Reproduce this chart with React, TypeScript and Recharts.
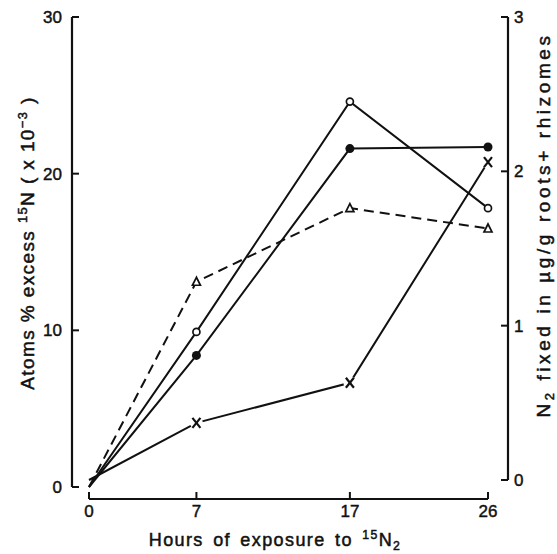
import React from 'react';
import { LineChart, Line, XAxis, YAxis, ReferenceLine } from 'recharts';

// values
const hours = [0, 7, 17, 26];
const openCircle = [0, 9.9, 24.6, 17.8];
const filledCircle = [0, 8.4, 21.6, 21.7];
const triangle = [0, 13.1, 17.8, 16.5];
const nFixed = [0, 0.37, 0.63, 2.06];

const hourTicks = [0, 7, 17, 26];
const atomTicks = [0, 10, 20, 30];
const fixedTicks = [0, 1, 2, 3];

const data = hours.map((hour, i) => ({
  hour,
  open: openCircle[i],
  filled: filledCircle[i],
  tri: triangle[i],
  fixed: nFixed[i]
}));

const INK = '#111';
const FONT = '"Liberation Sans", Arial, sans-serif';

// layout
const W = 557;
const H = 554;
const LEFT_W = 72;
const RIGHT_W = 49;
const TOP = 17;
const BOTTOM_H = 55;
const PAD_X = { left: 17, right: 20 };
const PAD_LEFT_Y = 12;
const PAD_RIGHT_Y = 19;

const plotW = W - LEFT_W - RIGHT_W;
const plotH = H - TOP - BOTTOM_H;
const pxPerHour = (plotW - PAD_X.left - PAD_X.right) / 26;
const pxPerAtom = (plotH - PAD_LEFT_Y) / 30;
const leftAxisX = -PAD_X.left / pxPerHour;
const rightAxisX = 26 + PAD_X.right / pxPerHour;
const bottomAxisY = -PAD_LEFT_Y / pxPerAtom;

const tickText = { fontSize: 17, fontFamily: FONT, fill: INK, stroke: INK, strokeWidth: 0.45 };

const LeftTick = ({ x, y, payload }: any) => (
  <g>
    <line x1={x} x2={x + 7} y1={y} y2={y} stroke={INK} strokeWidth={2} />
    <text x={x - 10} y={y} dy={6} textAnchor="end" {...tickText}>
      {payload.value}
    </text>
  </g>
);

const RightTick = ({ x, y, payload }: any) => (
  <g>
    <line x1={x - 7} x2={x} y1={y} y2={y} stroke={INK} strokeWidth={2} />
    <text x={x + 6} y={y} dy={6} textAnchor="start" {...tickText}>
      {payload.value}
    </text>
  </g>
);

const BottomTick = ({ x, y, payload }: any) => (
  <g>
    <line x1={x} x2={x} y1={y} y2={y - 7} stroke={INK} strokeWidth={2} />
    <text x={x} y={y + 18} textAnchor="middle" {...tickText}>
      {payload.value}
    </text>
  </g>
);

const OpenDot = ({ cx, cy, index }: any) =>
  index === 0 ? <g key={`o${index}`} /> : (
    <circle key={`o${index}`} cx={cx} cy={cy} r={3.5} fill="#fff" stroke={INK} strokeWidth={1.7} />
  );

const FilledDot = ({ cx, cy, index }: any) =>
  index === 0 ? <g key={`f${index}`} /> : (
    <circle key={`f${index}`} cx={cx} cy={cy} r={4.5} fill={INK} stroke="none" />
  );

const TriDot = ({ cx, cy, index }: any) =>
  index === 0 ? <g key={`t${index}`} /> : (
    <polygon
      key={`t${index}`}
      points={`${cx},${cy - 4.5} ${cx - 4},${cy + 3.5} ${cx + 4},${cy + 3.5}`}
      fill="#fff"
      stroke={INK}
      strokeWidth={1.7}
    />
  );

const CrossDot = ({ cx, cy, index }: any) =>
  index === 0 ? <g key={`x${index}`} /> : (
    <g key={`x${index}`}>
      <circle cx={cx} cy={cy} r={6.5} fill="#fff" />
      <line x1={cx - 4} y1={cy - 5} x2={cx + 4} y2={cy + 5} stroke={INK} strokeWidth={2.2} />
      <line x1={cx + 4} y1={cy - 5} x2={cx - 4} y2={cy + 5} stroke={INK} strokeWidth={2.2} />
    </g>
  );

const sup = { fontSize: '0.68em', position: 'relative', top: '-0.55em' } as const;
const sub = { fontSize: '0.68em', position: 'relative', top: '0.3em' } as const;

const titleBase = {
  position: 'absolute',
  whiteSpace: 'nowrap',
  lineHeight: 1,
  fontFamily: FONT,
  color: INK,
  WebkitTextStroke: `0.5px ${INK}`
} as const;

export default function App() {
  return (
    <div style={{ position: 'absolute', left: 0, top: 0, width: W, height: H, background: '#fff' }}>
      <LineChart width={W} height={H} data={data} margin={{ top: TOP, right: 0, bottom: 0, left: 0 }}>
        <XAxis
          dataKey="hour"
          type="number"
          domain={[0, 26]}
          ticks={hourTicks}
          padding={PAD_X}
          height={BOTTOM_H}
          axisLine={false}
          tickLine={false}
          tickSize={0}
          tickMargin={0}
          tick={<BottomTick />}
          interval={0}
        />
        <YAxis
          yAxisId="left"
          domain={[0, 30]}
          ticks={atomTicks}
          padding={{ top: 0, bottom: PAD_LEFT_Y }}
          width={LEFT_W}
          axisLine={false}
          tickLine={false}
          tickSize={0}
          tickMargin={0}
          tick={<LeftTick />}
          interval={0}
        />
        <YAxis
          yAxisId="right"
          orientation="right"
          domain={[0, 3]}
          ticks={fixedTicks}
          padding={{ top: 0, bottom: PAD_RIGHT_Y }}
          width={RIGHT_W}
          axisLine={false}
          tickLine={false}
          tickSize={0}
          tickMargin={0}
          tick={<RightTick />}
          interval={0}
        />
        <ReferenceLine
          yAxisId="left"
          segment={[{ x: leftAxisX, y: 0 }, { x: leftAxisX, y: 30 }]}
          ifOverflow="visible"
          stroke={INK}
          strokeWidth={2.2}
        />
        <ReferenceLine
          yAxisId="right"
          segment={[{ x: rightAxisX, y: 0 }, { x: rightAxisX, y: 3 }]}
          ifOverflow="visible"
          stroke={INK}
          strokeWidth={2.2}
        />
        <ReferenceLine
          yAxisId="left"
          segment={[{ x: 0, y: bottomAxisY }, { x: 26, y: bottomAxisY }]}
          ifOverflow="visible"
          stroke={INK}
          strokeWidth={2.2}
        />
        <Line yAxisId="left" dataKey="tri" stroke={INK} strokeWidth={2} strokeDasharray="10 6" dot={TriDot} isAnimationActive={false} />
        <Line yAxisId="right" dataKey="fixed" stroke={INK} strokeWidth={2} dot={CrossDot} isAnimationActive={false} />
        <Line yAxisId="left" dataKey="filled" stroke={INK} strokeWidth={2} dot={FilledDot} isAnimationActive={false} />
        <Line yAxisId="left" dataKey="open" stroke={INK} strokeWidth={2} dot={OpenDot} isAnimationActive={false} />
      </LineChart>

      <div style={{ ...titleBase, left: 275, top: 540, fontSize: 18, letterSpacing: 1.4, wordSpacing: 3, transform: 'translate(-50%, -50%)' }}>
        Hours of exposure to <span style={sup}>15</span>N<span style={sub}>2</span>
      </div>
      <div style={{ ...titleBase, left: 27, top: 243, fontSize: 19, letterSpacing: 1.4, transform: 'translate(-50%, -50%) rotate(-90deg)' }}>
        Atoms % excess <span style={sup}>15</span>N ( x 10<span style={sup}>&minus;3</span> )
      </div>
      <div style={{ ...titleBase, left: 543, top: 225, fontSize: 19, letterSpacing: 3.6, transform: 'translate(-50%, -50%) rotate(-90deg)' }}>
        N<span style={sub}>2</span> fixed in &micro;g/g roots+ rhizomes
      </div>
    </div>
  );
}
